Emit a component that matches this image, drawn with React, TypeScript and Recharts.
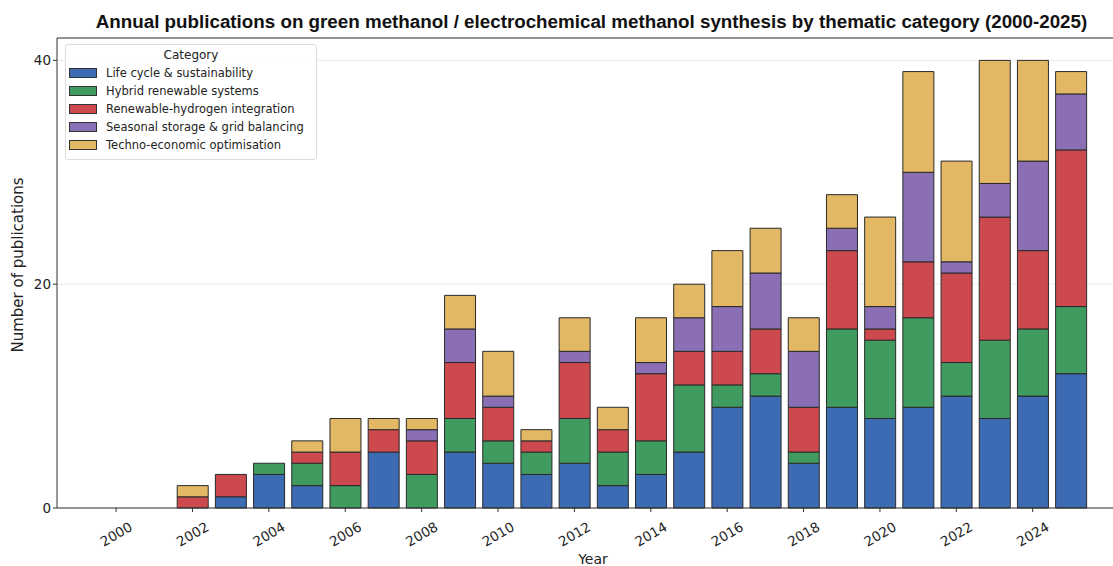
import React from 'react';
import { BarChart, Bar, XAxis, YAxis, CartesianGrid, ReferenceLine } from 'recharts';

const years = ['2000', '2001', '2002', '2003', '2004', '2005', '2006', '2007', '2008', '2009', '2010', '2011', '2012',
  '2013', '2014', '2015', '2016', '2017', '2018', '2019', '2020', '2021', '2022', '2023', '2024', '2025'];

const lifeCycle = [0, 0, 0, 1, 3, 2, 0, 5, 0, 5, 4, 3, 4, 2, 3, 5, 9, 10, 4, 9, 8, 9, 10, 8, 10, 12];
const hybrid = [0, 0, 0, 0, 1, 2, 2, 0, 3, 3, 2, 2, 4, 3, 3, 6, 2, 2, 1, 7, 7, 8, 3, 7, 6, 6];
const hydrogen = [0, 0, 1, 2, 0, 1, 3, 2, 3, 5, 3, 1, 5, 2, 6, 3, 3, 4, 4, 7, 1, 5, 8, 11, 7, 14];
const storage = [0, 0, 0, 0, 0, 0, 0, 0, 1, 3, 1, 0, 1, 0, 1, 3, 4, 5, 5, 2, 2, 8, 1, 3, 8, 5];
const techno = [0, 0, 1, 0, 0, 1, 3, 1, 1, 3, 4, 1, 3, 2, 4, 3, 5, 4, 3, 3, 8, 9, 9, 11, 9, 2];

const yTicks = [0, 20, 40];

const series = [
  { key: 'life', name: 'Life cycle & sustainability', color: '#3d6bb3' },
  { key: 'hybrid', name: 'Hybrid renewable systems', color: '#3f9b5f' },
  { key: 'hydrogen', name: 'Renewable-hydrogen integration', color: '#cc4a4d' },
  { key: 'storage', name: 'Seasonal storage & grid balancing', color: '#8a6fb5' },
  { key: 'techno', name: 'Techno-economic optimisation', color: '#e2b865' },
];

const data = years.map((year, i) => ({
  year,
  life: lifeCycle[i],
  hybrid: hybrid[i],
  hydrogen: hydrogen[i],
  storage: storage[i],
  techno: techno[i],
}));

const FONT = '"DejaVu Sans", sans-serif';

const XTick = (props: any) => {
  const { x, y, payload } = props;
  return (
    <g transform={`translate(${x},${y + 20})`}>
      <text transform="rotate(-30)" textAnchor="middle" dominantBaseline="central" fontSize={13.5} fill="#222" fontFamily={FONT}>
        {payload.value}
      </text>
    </g>
  );
};

const LegendBox = () => (
  <div
    style={{
      position: 'absolute',
      left: 65,
      top: 44,
      width: 252,
      padding: '2px 0 5px 0',
      border: '1px solid #dddddd',
      borderRadius: 3,
      background: 'rgba(255,255,255,0.85)',
      fontFamily: FONT,
      fontSize: 11.5,
      color: '#222',
      boxSizing: 'border-box',
    }}
  >
    <div style={{ textAlign: 'center', lineHeight: '17px', fontSize: 12 }}>Category</div>
    {series.map((s) => (
      <div key={s.key} style={{ display: 'flex', alignItems: 'center', height: 18, paddingLeft: 3 }}>
        <span
          style={{
            display: 'inline-block',
            width: 26,
            height: 8,
            background: s.color,
            border: '1px solid #333',
            marginRight: 9,
          }}
        />
        <span>{s.name}</span>
      </div>
    ))}
  </div>
);

export default function App() {
  return (
    <div style={{ position: 'absolute', left: 0, top: 0, width: 1113, height: 566, background: '#fff', overflow: 'hidden' }}>
      <div
        style={{
          position: 'absolute',
          left: 0,
          width: 1183,
          top: 11,
          textAlign: 'center',
          fontFamily: '"Liberation Sans", Arial, sans-serif',
          fontWeight: 'bold',
          fontSize: 18.8,
          color: '#111',
        }}
      >
        Annual publications on green methanol / electrochemical methanol synthesis by thematic category (2000-2025)
      </div>
      <BarChart
        width={1113}
        height={566}
        data={data}
        margin={{ top: 38, right: 0, bottom: 0, left: 0 }}
        barCategoryGap="10%"
      >
        <CartesianGrid vertical={false} stroke="#ececec" />
        <XAxis
          dataKey="year"
          interval={1}
          height={58}
          padding={{ left: 40, right: 23 }}
          tickSize={4}
          tickLine={{ stroke: '#333' }}
          axisLine={{ stroke: '#333' }}
          tick={<XTick />}
          label={{
            content: ({ viewBox }: any) => (
              <text x={viewBox.x + viewBox.width / 2 + 8} y={viewBox.y + 56} textAnchor="middle" fontSize={14} fill="#222" fontFamily={FONT}>
                Year
              </text>
            ),
          }}
        />
        <YAxis
          width={57}
          domain={[0, 42]}
          ticks={yTicks}
          tickSize={4}
          tickLine={{ stroke: '#333' }}
          axisLine={{ stroke: '#333' }}
          tick={{ fontSize: 13.5, fill: '#222', fontFamily: FONT }}
          label={{
            content: ({ viewBox }: any) => {
              const cx = 18;
              const cy = viewBox.y + viewBox.height / 2 - 8;
              return (
                <text x={cx} y={cy} transform={`rotate(-90 ${cx} ${cy})`} textAnchor="middle" dominantBaseline="central" fontSize={15} fill="#222" fontFamily={FONT}>
                  Number of publications
                </text>
              );
            },
          }}
        />
        <ReferenceLine y={42} stroke="#333" />
        {series.map((s) => (
          <Bar
            key={s.key}
            dataKey={s.key}
            name={s.name}
            stackId="a"
            fill={s.color}
            stroke="#2a2a2a"
            strokeWidth={1}
            isAnimationActive={false}
          />
        ))}
      </BarChart>
      <LegendBox />
    </div>
  );
}
